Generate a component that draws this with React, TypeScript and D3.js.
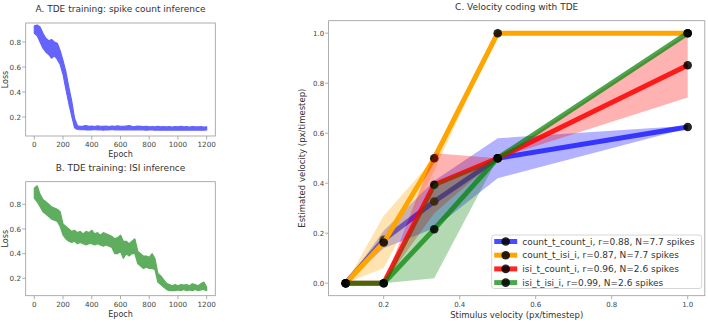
import React from "react"
import * as d3 from "d3"

// training loss envelopes, sampled every 20 epochs
const epochs = d3.range(0, 1201, 20)

const countLossHi = [
  0.93, 0.935, 0.92, 0.87, 0.83, 0.81, 0.82, 0.8, 0.79, 0.73,
  0.65, 0.56, 0.44, 0.33, 0.19, 0.13, 0.125, 0.128, 0.132, 0.125,
  0.127, 0.124, 0.129, 0.126, 0.125, 0.128, 0.124, 0.127, 0.125, 0.129,
  0.126, 0.125, 0.128, 0.131, 0.126, 0.124, 0.127, 0.125, 0.123, 0.126,
  0.122, 0.124, 0.121, 0.125, 0.122, 0.124, 0.121, 0.123, 0.12, 0.124,
  0.122, 0.125, 0.121, 0.123, 0.12, 0.124, 0.122, 0.121, 0.123, 0.12, 0.122,
]
const countLossLo = [
  0.87, 0.85, 0.8, 0.75, 0.72, 0.7, 0.67, 0.69, 0.66, 0.62,
  0.54, 0.42, 0.31, 0.21, 0.115, 0.1, 0.098, 0.1, 0.097, 0.099,
  0.096, 0.1, 0.097, 0.098, 0.095, 0.099, 0.097, 0.1, 0.096, 0.098,
  0.097, 0.099, 0.096, 0.098, 0.097, 0.099, 0.096, 0.098, 0.097, 0.095,
  0.097, 0.096, 0.095, 0.097, 0.094, 0.096, 0.095, 0.097, 0.094, 0.096,
  0.095, 0.097, 0.094, 0.096, 0.095, 0.097, 0.094, 0.096, 0.095, 0.094, 0.096,
]

const isiLossHi = [
  0.93, 0.95, 0.88, 0.84, 0.82, 0.8, 0.78, 0.77, 0.76, 0.74,
  0.64, 0.62, 0.6, 0.58, 0.59, 0.57, 0.58, 0.56, 0.58, 0.57,
  0.59, 0.56, 0.57, 0.55, 0.57, 0.56, 0.55, 0.54, 0.52, 0.53,
  0.55, 0.5, 0.5, 0.48, 0.5, 0.52, 0.42, 0.4, 0.38, 0.38,
  0.37, 0.4, 0.36, 0.24, 0.22, 0.19, 0.16, 0.15,
  0.14, 0.15, 0.14, 0.15, 0.145, 0.15, 0.14, 0.155, 0.15, 0.14, 0.155, 0.17, 0.13,
]
const isiLossLo = [
  0.85, 0.82, 0.78, 0.74, 0.72, 0.7, 0.68, 0.67, 0.66, 0.62,
  0.55, 0.52, 0.5, 0.49, 0.5, 0.48, 0.49, 0.48, 0.47, 0.48,
  0.48, 0.47, 0.48, 0.47, 0.46, 0.47, 0.46, 0.45, 0.4, 0.4,
  0.42, 0.36, 0.4, 0.38, 0.4, 0.4, 0.32, 0.3, 0.28, 0.29,
  0.28, 0.28, 0.27, 0.17, 0.15, 0.13, 0.11, 0.1,
  0.1, 0.1, 0.105, 0.1, 0.11, 0.1, 0.105, 0.1, 0.11, 0.1, 0.105, 0.11, 0.1,
]

// velocity coding
const stimVelocity = [0.1, 0.2, 0.333, 0.5, 1.0]

const seriesNames = ["count_t_count_i", "count_t_isi_i", "isi_t_count_i", "isi_t_isi_i"]
const seriesLabels = [
  "count_t_count_i, r=0.88, N=7.7 spikes",
  "count_t_isi_i, r=0.87, N=7.7 spikes",
  "isi_t_count_i, r=0.96, N=2.6 spikes",
  "isi_t_isi_i, r=0.99, N=2.6 spikes",
]
const meanEst = [
  [0, 0.174, 0.327, 0.5, 0.625],
  [0, 0.163, 0.5, 1.0, 1.0],
  [0, 0, 0.394, 0.5, 0.872],
  [0, 0, 0.216, 0.5, 1.0],
]
const lowEst = [
  [0, 0.14, 0.22, 0.42, 0.62],
  [0, 0.06, 0.45, 1.0, 1.0],
  [0, 0, 0.28, 0.5, 0.743],
  [0, 0, 0.02, 0.5, 1.0],
]
const highEst = [
  [0, 0.21, 0.41, 0.58, 0.63],
  [0, 0.27, 0.5, 1.0, 1.0],
  [0, 0, 0.52, 0.5, 1.0],
  [0, 0, 0.4, 0.5, 1.0],
]
const seriesColors = ["#0000ff", "#ffa500", "#ff0000", "#008000"]
const lineAlpha = [0.7, 1, 0.85, 0.7]

const epochTicks = [0, 200, 400, 600, 800, 1000, 1200]
const lossTicks = [0.2, 0.4, 0.6, 0.8]
const velTicks = [0.2, 0.4, 0.6, 0.8, 1.0]
const estTicks = [0, 0.2, 0.4, 0.6, 0.8, 1.0]

const FONT = "DejaVu Sans, sans-serif"
const SPINE = "#999"
const TXT = "#333"
const fmt = d3.format(".1f")

function LossPanel({ title, hi, lo, color, top, bottom, yDomain }: any) {
  const x = d3.scaleLinear().domain([-60, 1260]).range([25.7, 215.3])
  const y = d3.scaleLinear().domain(yDomain).range([bottom, top])
  const area = d3
    .area<number>()
    .x((d, i) => x(epochs[i]))
    .y0((d, i) => y(lo[i]))
    .y1((d) => y(d))
  return (
    <g fontFamily={FONT}>
      <text x={120.5} y={top - 11} textAnchor="middle" fontSize={9} fill={TXT}>{title}</text>
      <path d={area(hi) || ""} fill={color} stroke={color} strokeWidth={1.2} strokeLinejoin="bevel" />
      <rect x={25.7} y={top} width={215.3 - 25.7} height={bottom - top} fill="none" stroke={SPINE} strokeWidth={0.8} />
      {epochTicks.map((t) => (
        <g key={t}>
          <line x1={x(t)} x2={x(t)} y1={bottom} y2={bottom + 3.5} stroke={SPINE} strokeWidth={0.8} />
          <text x={x(t)} y={bottom + 11} textAnchor="middle" fontSize={7.2} fill="#444">{t}</text>
        </g>
      ))}
      {lossTicks.map((t) => (
        <g key={t}>
          <line x1={25.7} x2={22.2} y1={y(t)} y2={y(t)} stroke={SPINE} strokeWidth={0.8} />
          <text x={21} y={y(t) + 2.6} textAnchor="end" fontSize={7.2} fill="#444">{fmt(t)}</text>
        </g>
      ))}
      <text x={120.5} y={bottom + 21} textAnchor="middle" fontSize={8} fill={TXT}>Epoch</text>
      <text transform={`translate(8,${(top + bottom) / 2}) rotate(-90)`} textAnchor="middle" fontSize={8} fill={TXT}>Loss</text>
    </g>
  )
}

function VelocityPanel() {
  const left = 328.6, right = 704.8, top = 20.7, bottom = 295.7
  const x = d3.scaleLinear().domain([0.055, 1.045]).range([left, right])
  const y = d3.scaleLinear().domain([-0.05, 1.05]).range([bottom, top])
  const line = d3.line<number>().x((d, i) => x(stimVelocity[i])).y((d) => y(d))
  const band = (k: number) =>
    d3.area<number>().x((d, i) => x(stimVelocity[i])).y0((d, i) => y(lowEst[k][i])).y1((d) => y(d))(highEst[k]) || ""
  const legX = 491.7, legY = 235, legW = 210, legH = 53.5
  return (
    <g fontFamily={FONT}>
      <text x={(left + right) / 2} y={9.5} textAnchor="middle" fontSize={9} fill={TXT}>C. Velocity coding with TDE</text>
      {seriesNames.map((name, k) => (
        <g key={name}>
          <path d={line(meanEst[k]) || ""} fill="none" stroke={seriesColors[k]} strokeOpacity={lineAlpha[k]} strokeWidth={5} strokeLinejoin="round" />
          <path d={band(k)} fill={seriesColors[k]} fillOpacity={0.3} stroke="none" />
          {meanEst[k].map((v, i) => (
            <circle key={i} cx={x(stimVelocity[i])} cy={y(v)} r={4.3} fill="#000" fillOpacity={0.85} />
          ))}
        </g>
      ))}
      <rect x={left} y={top} width={right - left} height={bottom - top} fill="none" stroke={SPINE} strokeWidth={0.8} />
      {velTicks.map((t) => (
        <g key={t}>
          <line x1={x(t)} x2={x(t)} y1={bottom} y2={bottom + 3.5} stroke={SPINE} strokeWidth={0.8} />
          <text x={x(t)} y={bottom + 11} textAnchor="middle" fontSize={7} fill="#444">{fmt(t)}</text>
        </g>
      ))}
      {estTicks.map((t) => (
        <g key={t}>
          <line x1={left} x2={left - 3.5} y1={y(t)} y2={y(t)} stroke={SPINE} strokeWidth={0.8} />
          <text x={left - 5} y={y(t) + 2.5} textAnchor="middle" fontSize={7} fill="#444" dx={-5}>{fmt(t)}</text>
        </g>
      ))}
      <text x={(left + right) / 2} y={bottom + 22} textAnchor="middle" fontSize={8.5} fill={TXT}>Stimulus velocity (px/timestep)</text>
      <text transform={`translate(305,${(top + bottom) / 2}) rotate(-90)`} textAnchor="middle" fontSize={8.5} fill={TXT}>Estimated velocity (px/timestep)</text>

      <rect x={legX} y={legY} width={legW} height={legH} rx={2.5} fill="#fff" fillOpacity={0.8} stroke="#ccc" strokeWidth={0.8} />
      {seriesLabels.map((lab, k) => {
        const cy = legY + 6.5 + k * 13.7
        return (
          <g key={lab}>
            <line x1={legX + 2.5} x2={legX + 25.5} y1={cy} y2={cy} stroke={seriesColors[k]} strokeOpacity={lineAlpha[k]} strokeWidth={5} />
            <circle cx={legX + 14} cy={cy} r={4.3} fill="#000" fillOpacity={0.85} />
            <text x={legX + 30.5} y={cy + 3.2} fontSize={9} fill={TXT}>{lab}</text>
          </g>
        )
      })}
    </g>
  )
}

export default function App() {
  return (
    <svg width={708} height={323} viewBox="0 0 708 323" style={{ position: "fixed", left: 0, top: 0, background: "#fff" }}>
      <LossPanel title="A. TDE training: spike count inference" hi={countLossHi} lo={countLossLo} color="#6464fa" top={23} bottom={136} yDomain={[0.048, 0.952]} />
      <LossPanel title="B. TDE training: ISI inference" hi={isiLossHi} lo={isiLossLo} color="#5fae5f" top={181.7} bottom={295.7} yDomain={[0.059, 0.983]} />
      <VelocityPanel />
    </svg>
  )
}
